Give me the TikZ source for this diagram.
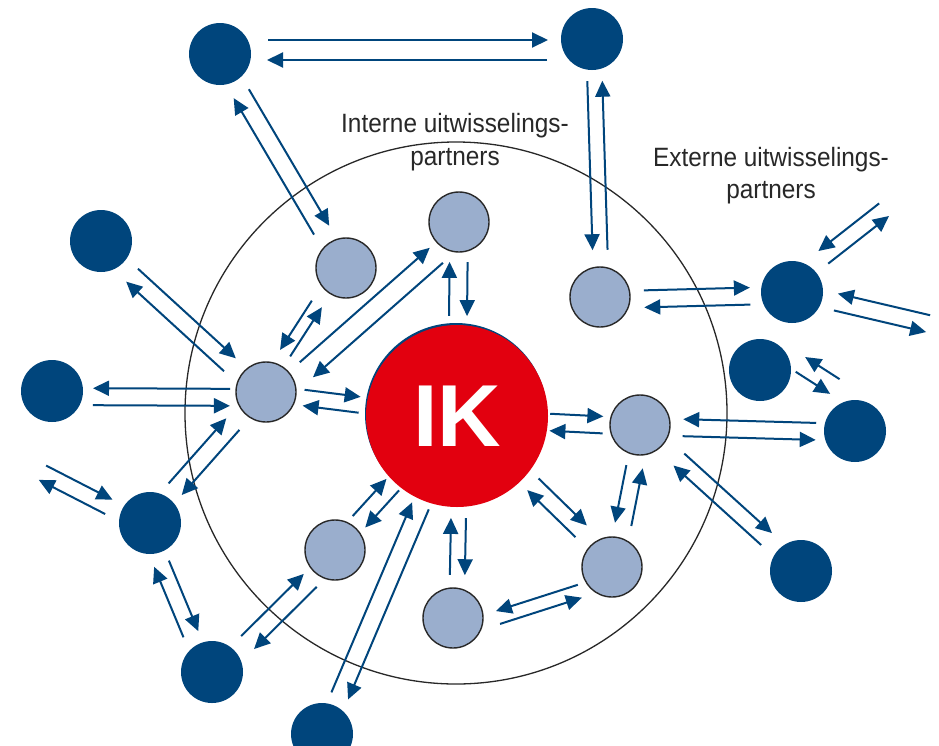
\documentclass[tikz,border=0pt]{standalone}
\usepackage{fontspec}
\newfontfamily\lblfont[FakeStretch=0.92]{Liberation Sans}
\newfontfamily\ikfont{Liberation Sans}
\usetikzlibrary{calc,arrows.meta}
\definecolor{cblue}{RGB}{0,69,124}
\definecolor{clight}{RGB}{154,174,205}
\definecolor{cred}{RGB}{226,0,15}
\definecolor{ctext}{RGB}{40,40,40}
% #1 A, #2 B, #3 gap at A, #4 gap at B, #5 offset of A->B line (left), #6 offset of B->A line (right)
\newcommand\xch[6]{%
  \draw[xarr] ($($(#1.center)!#3pt!(#2.center)$)!#5pt!90:(#2.center)$) -- ($($(#2.center)!#4pt!(#1.center)$)!#5pt!-90:(#1.center)$);
  \draw[xarr] ($($(#2.center)!#4pt!(#1.center)$)!#6pt!90:(#1.center)$) -- ($($(#1.center)!#3pt!(#2.center)$)!#6pt!-90:(#2.center)$);
}
\begin{document}
\begin{tikzpicture}[x=1pt,y=-1pt,
  ext/.style={circle,fill=cblue,inner sep=0pt,minimum size=62pt},
  intn/.style={circle,fill=clight,draw=ctext,line width=1.4pt,inner sep=0pt,minimum size=60pt},
  xarr/.style={draw=cblue,line width=2pt,-{Triangle[length=16pt,width=15pt]}},
  lbl/.style={font=\lblfont\fontsize{26.5}{30}\selectfont,text=ctext,inner sep=0pt,anchor=base}]
\useasboundingbox (0,0) rectangle (939,745);
\clip (0,0) rectangle (939,745);
\fill[white] (0,0) rectangle (939,745);

% outer boundary
\node[circle,draw=ctext,line width=1.3pt,inner sep=0pt,minimum size=542pt] (ring) at (456,413) {};

% labels
\node[lbl] (int1) at (455,132) {Interne uitwisselings-};
\node[lbl] (int2) at (455,165) {partners};
\node[lbl] (ext1) at (771,166) {Externe uitwisselings-};
\node[lbl] (ext2) at (771,198) {partners};

% external partners
\node[ext] (D1) at (220,54) {};
\node[ext] (D2) at (592,39) {};
\node[ext] (D3) at (101,241) {};
\node[ext] (D4) at (52,391) {};
\node[ext] (D5) at (150,523) {};
\node[ext] (D6) at (212,672) {};
\node[ext] (D7) at (322,734) {};
\node[ext] (D8) at (792,292) {};
\node[ext] (D9) at (760,370) {};
\node[ext] (D10) at (855,431) {};
\node[ext] (D11) at (801,571) {};
\coordinate (O1) at (8,450);
\coordinate (O2) at (926,187);
\coordinate (O3) at (967,333);

% internal partners
\node[intn] (L1) at (346,268) {};
\node[intn] (L2) at (459,222) {};
\node[intn] (L3) at (266,392) {};
\node[intn] (L4) at (600,297) {};
\node[intn] (L5) at (640,425) {};
\node[intn] (L6) at (335,550) {};
\node[intn] (L7) at (612,567) {};
\node[intn] (L8) at (453,618) {};

% central
\fill[cblue] (456,414) circle (91);
\node[circle,fill=cred,inner sep=0pt,minimum size=182pt,text=white,
  font=\ikfont\bfseries\fontsize{88}{88}\selectfont] (IK) at (457,416) {IK};

% exchanges
\draw[xarr] ($(D1.center)+(48,-14)$) -- ($(D2.center)+(-44,1)$);
\draw[xarr] ($(D2.center)+(-45,21)$) -- ($(D1.center)+(47,6)$);
\xch{D1}{L1}{45}{45}{7}{10.6}
\xch{D2}{L4}{42}{47}{-6}{-9}
\xch{D3}{L3}{46}{45}{4.5}{13}
\xch{D4}{L3}{41}{36}{-14}{-3}
\xch{D5}{L3}{42}{46}{12.3}{5.2}
\xch{D5}{D6}{42}{43}{3}{13}
\xch{D5}{O1}{44}{41}{12.5}{3.6}
\xch{D6}{L6}{46}{39}{5}{13.3}
\xch{D7}{IK}{42}{97}{7.6}{10.5}
\xch{L6}{IK}{37}{94}{9.8}{7.2}
\xch{L8}{IK}{43}{102}{4}{11}
\xch{L8}{L7}{43}{38}{-20}{6.5}
\xch{IK}{L7}{102}{47}{12.2}{4.1}
\xch{L7}{L5}{44}{42}{-11}{-5.6}
\xch{IK}{L5}{93}{37}{6.8}{10.2}
\xch{L5}{D10}{43}{39}{-10}{-7}
\xch{L5}{D11}{52}{47}{8.6}{7.5}
\xch{D9}{D10}{31}{41}{17.8}{-35.3}
\xch{L4}{D8}{44}{42}{5.5}{11.5}
\xch{D8}{O2}{46}{47}{0}{-16}
\xch{D8}{O3}{45}{40}{-8.4}{-8.9}
\xch{L1}{L3}{46}{43}{-11}{-1}
\xch{L3}{L2}{45}{39}{0}{20}
\xch{L2}{IK}{40}{100}{9}{9}
\xch{L3}{IK}{38}{98}{7}{9}
\end{tikzpicture}
\end{document}
